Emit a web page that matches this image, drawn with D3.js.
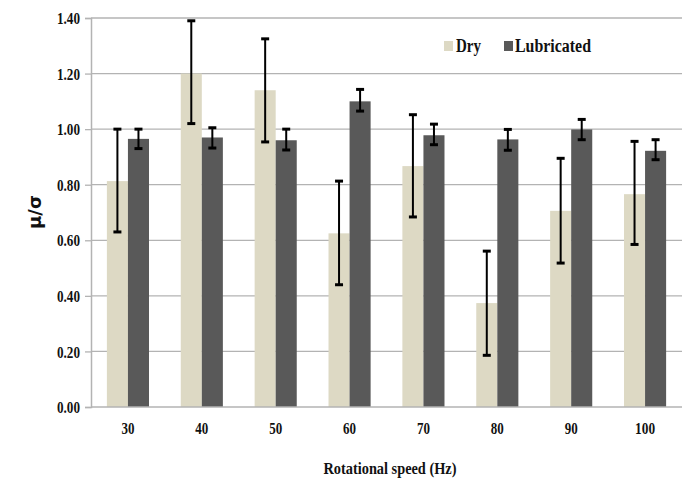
<!DOCTYPE html>
<html><head><meta charset="utf-8">
<script src="https://cdn.jsdelivr.net/npm/d3@7"></script>
<style>body{margin:0;background:#fff}svg text{font-family:"Liberation Serif","Times New Roman",serif;font-weight:bold;fill:#111}</style>
</head><body><svg id="c" width="686" height="481"></svg>
<script>
const categories = ["30","40","50","60","70","80","90","100"];
const dryValues = [0.813, 1.20, 1.14, 0.625, 0.867, 0.374, 0.706, 0.766];
const dryLow    = [0.63, 1.02, 0.954, 0.44, 0.684, 0.186, 0.518, 0.585];
const dryHigh   = [1.00, 1.39, 1.325, 0.813, 1.052, 0.561, 0.895, 0.956];
const lubValues = [0.965, 0.97, 0.96, 1.10, 0.978, 0.963, 0.999, 0.922];
const lubLow    = [0.93, 0.932, 0.925, 1.065, 0.944, 0.924, 0.962, 0.89];
const lubHigh   = [1.00, 1.005, 1.00, 1.143, 1.018, 0.999, 1.035, 0.962];
const yTicks = [0,0.2,0.4,0.6,0.8,1.0,1.2,1.4];
const seriesNames = ["Dry","Lubricated"];
const colors = ["#ddd9c4","#595959"];

const svg = d3.select("#c");
const L = 91, R = 682, T = 18, B = 407;
const x = d3.scaleBand().domain(categories).range([L,R]).paddingInner(0.43).paddingOuter(0.215);
const y = d3.scaleLinear().domain([0,1.4]).range([B,T]);
const bw = x.bandwidth()/2;

// gridlines
svg.append("g").selectAll("line").data(yTicks.slice(1)).join("line")
  .attr("x1",L).attr("x2",R).attr("y1",d=>y(d)).attr("y2",d=>y(d))
  .attr("stroke","#b3b3b3").attr("stroke-width",1.3);

// y axis
const ya = svg.append("g").attr("transform",`translate(${L},0)`)
  .call(d3.axisLeft(y).tickValues(yTicks).tickFormat(d3.format(".2f")).tickSize(6).tickPadding(5));
ya.select(".domain").attr("stroke","#b3b3b3").attr("stroke-width",1.5);
ya.selectAll(".tick line").attr("stroke","#b3b3b3").attr("stroke-width",1.3);
ya.selectAll("text").attr("font-size",16).attr("fill","#111").style("font-family","Liberation Serif")
  .style("font-weight","bold").attr("textLength",23).attr("lengthAdjust","spacingAndGlyphs").attr("dy","0.35em");

// bars
const data = categories.map((c,i)=>({c, v:[dryValues[i],lubValues[i]], lo:[dryLow[i],lubLow[i]], hi:[dryHigh[i],lubHigh[i]]}));
const g = svg.append("g");
data.forEach(d=>{
  [0,1].forEach(s=>{
    const x0 = x(d.c)+s*bw;
    g.append("rect").attr("x",x0).attr("width",bw).attr("y",y(d.v[s])).attr("height",B-y(d.v[s]))
      .attr("fill",colors[s]);
  });
});
// baseline
svg.append("line").attr("x1",L).attr("x2",R).attr("y1",B).attr("y2",B).attr("stroke","#b3b3b3").attr("stroke-width",1.5);
// error bars
data.forEach(d=>{
  [0,1].forEach(s=>{
    const cx = x(d.c)+s*bw+bw/2;
    g.append("line").attr("x1",cx).attr("x2",cx).attr("y1",y(d.lo[s])).attr("y2",y(d.hi[s])).attr("stroke","#000").attr("stroke-width",2);
    [d.lo[s],d.hi[s]].forEach(v=>g.append("line").attr("x1",cx-4).attr("x2",cx+4).attr("y1",y(v)).attr("y2",y(v)).attr("stroke","#000").attr("stroke-width",3));
  });
});

// x tick labels
const xa = svg.append("g").attr("transform",`translate(0,${B})`)
  .call(d3.axisBottom(x).tickSize(0).tickPadding(16));
xa.select(".domain").remove();
xa.selectAll("text").attr("font-size",16).attr("fill","#111").style("font-family","Liberation Serif").style("font-weight","bold")
  .each(function(d){ d3.select(this).attr("textLength", d.length===3?20:13).attr("lengthAdjust","spacingAndGlyphs"); });

// axis titles
svg.append("text").attr("x",390).attr("y",474).attr("text-anchor","middle").attr("font-size",17)
  .attr("textLength",133).attr("lengthAdjust","spacingAndGlyphs").text("Rotational speed (Hz)");
svg.append("text").attr("transform","translate(41,212) rotate(-90)").attr("text-anchor","middle").attr("font-size",18)
  .style("font-family","DejaVu Sans").text("μ/σ");

// legend
const legX = [444,504], legTX=[456,515], legW=[25,76];
seriesNames.forEach((n,i)=>{
  svg.append("rect").attr("x",legX[i]).attr("y",41).attr("width",9).attr("height",10).attr("fill",colors[i]);
  svg.append("text").attr("x",legTX[i]).attr("y",52).attr("font-size",18).attr("textLength",legW[i])
    .attr("lengthAdjust","spacingAndGlyphs").text(n);
});
</script></body></html>
